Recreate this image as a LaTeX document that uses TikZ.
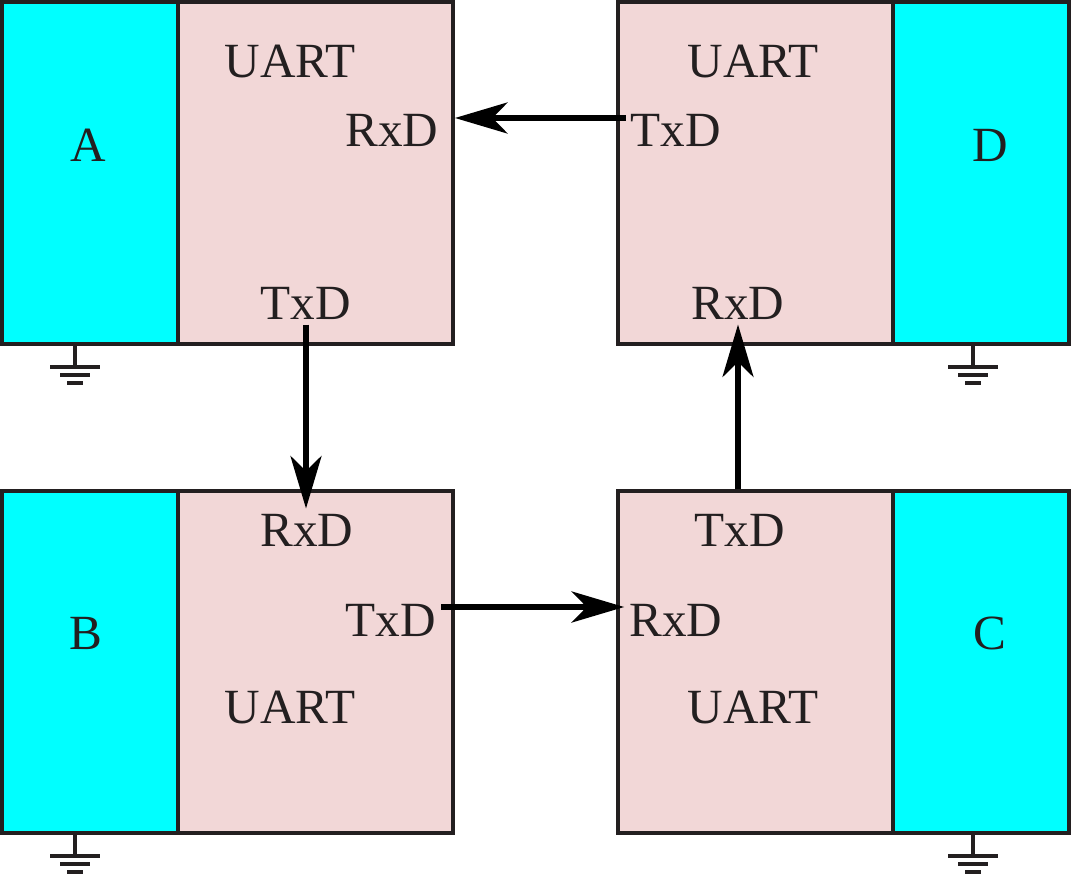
\documentclass[tikz,border=0pt]{standalone}
\usepackage{fontspec}
\setmainfont{Liberation Serif}
\usepackage{tikz}
\usetikzlibrary{arrows.meta}
\definecolor{edge}{HTML}{231F20}
\definecolor{uartpink}{HTML}{F2D7D7}
\definecolor{hostcyan}{HTML}{00FFFF}
\def\earth(#1){\draw[gndline] (#1) -- ++(0,21); \draw[gndline] ($(#1)+(-25,21)$) -- ++(50,0); \draw[gndline] ($(#1)+(-15,29)$) -- ++(30,0); \draw[gndline] ($(#1)+(-8,37)$) -- ++(16,0);}
\usetikzlibrary{calc}

\begin{document}
\begin{tikzpicture}[x=0.02cm, y=-0.02cm,
		uart/.style={draw=edge, fill=uartpink, line width=0.08cm, minimum width=5.5cm, minimum height=6.84cm, inner sep=0pt},
		host/.style={uart, fill=hostcyan, minimum width=3.52cm},
		lbl/.style={text=edge, font=\fontsize{28}{33}\selectfont, inner sep=0.1cm},
		arr/.style={-{Stealth[length=1.05cm, width=0.62cm, inset=0.3cm]}, line width=0.11cm},
		gndline/.style={line width=0.07cm, draw=edge}]
		%%%%% START %%%%%
		\useasboundingbox (0,0) rectangle (1071,874);
		
		% top left
		\node[host] (aH) at (90, 173) {};
		\node[uart] (aU) at (315.5, 173) {};
		\node[lbl] (aN) at (88, 145) {A};
		\node[lbl] (aUart) at (290, 62) {UART};
		\node[lbl] (aRx) at (392, 130) {RxD};
		\node[lbl] (aTx) at (306, 303) {TxD};
		
		% top right
		\node[uart] (dU) at (755.5, 173) {};
		\node[host] (dH) at (981, 173) {};
		\node[lbl] (dN) at (990, 145) {D};
		\node[lbl] (dUart) at (753, 62) {UART};
		\node[lbl] (dTx) at (676, 130) {TxD};
		\node[lbl] (dRx) at (738, 303) {RxD};
		
		% bottom left
		\node[host] (bH) at (90, 662) {};
		\node[uart] (bU) at (315.5, 662) {};
		\node[lbl] (bN) at (86, 633) {B};
		\node[lbl] (bRx) at (307, 530) {RxD};
		\node[lbl] (bTx) at (391, 620) {TxD};
		\node[lbl] (bUart) at (290, 707) {UART};
		
		% bottom right
		\node[uart] (cU) at (755.5, 662) {};
		\node[host] (cH) at (981, 662) {};
		\node[lbl] (cN) at (990, 633) {C};
		\node[lbl] (cTx) at (740, 530) {TxD};
		\node[lbl] (cRx) at (676, 620) {RxD};
		\node[lbl] (cUart) at (753, 707) {UART};
		
		% links
		\draw[arr] ([yshift=0.24cm]dTx.west) -- ([yshift=0.24cm]dTx.west -| aU.east);
		\draw[arr] (aTx.south) -- (aTx.south |- bRx.north);
		\draw[arr] ([yshift=0.26cm]bTx.east) -- ([yshift=0.26cm]cRx.west);
		\draw[arr] (dRx.south |- cU.north) -- (dRx.south);
		
		% grounds
		\earth([xshift=-0.3cm]aH.south)
		\earth([xshift=-0.16cm]dH.south)
		\earth([xshift=-0.3cm]bH.south)
		\earth([xshift=-0.16cm]cH.south)
		%%%%% END %%%%%
\end{tikzpicture}
\end{document}
